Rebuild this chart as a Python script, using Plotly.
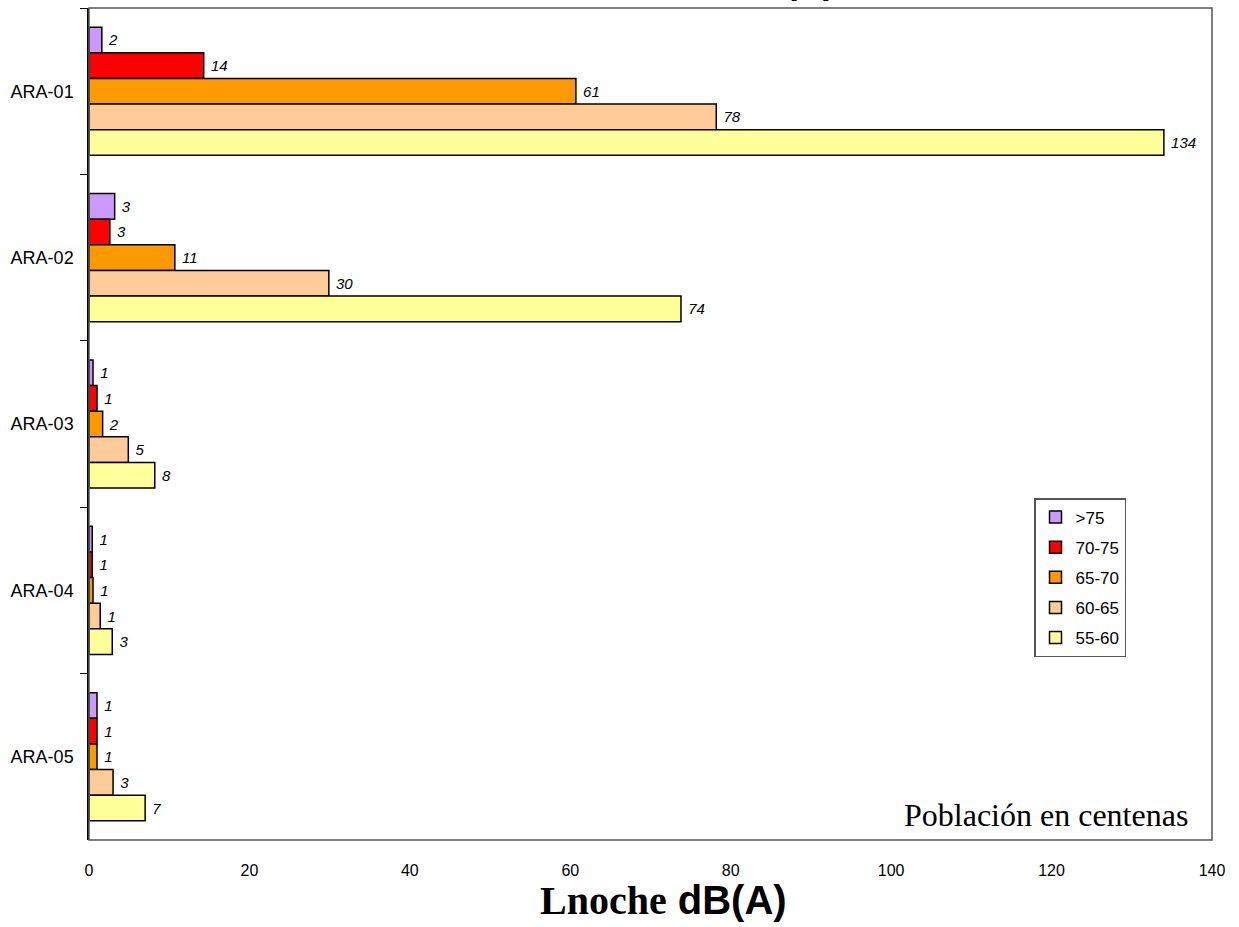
import plotly.graph_objects as go

categories = ["ARA-01", "ARA-02", "ARA-03", "ARA-04", "ARA-05"]
series_names = [">75", "70-75", "65-70", "60-65", "55-60"]

v_gt75 = [1.6, 3.2, 0.5, 0.4, 1.0]
v_70_75 = [14.3, 2.6, 1.0, 0.4, 1.0]
v_65_70 = [60.7, 10.7, 1.7, 0.5, 1.0]
v_60_65 = [78.2, 29.9, 4.9, 1.4, 3.0]
v_55_60 = [134.0, 73.8, 8.2, 2.9, 7.0]

l_gt75 = ["2", "3", "1", "1", "1"]
l_70_75 = ["14", "3", "1", "1", "1"]
l_65_70 = ["61", "11", "2", "1", "1"]
l_60_65 = ["78", "30", "5", "1", "3"]
l_55_60 = ["134", "74", "8", "3", "7"]

x_ticks = [0, 20, 40, 60, 80, 100, 120, 140]

colors = ["#CC99FF", "#FF0000", "#FF9900", "#FFCC99", "#FFFF99"]
values = [v_gt75, v_70_75, v_65_70, v_60_65, v_55_60]
labels = [l_gt75, l_70_75, l_65_70, l_60_65, l_55_60]

SANS = "Liberation Sans, Arial"
SERIF = "Liberation Serif, Times New Roman"

fig = go.Figure()
for name, vals, labs, col in zip(series_names, values, labels, colors):
    fig.add_trace(go.Bar(
        y=categories, x=vals, name=name, orientation="h", legendgroup=name,
        marker=dict(color=col, line=dict(color="black", width=1.5)),
        text=labs, texttemplate="\u00a0%{text}", textposition="outside", cliponaxis=False,
        textfont=dict(family=SANS, size=15, color="black", style="italic"),
    ))

fig.update_layout(
    width=1239, height=927,
    barmode="group", bargap=0.23, bargroupgap=0,
    plot_bgcolor="white", paper_bgcolor="white",
    margin=dict(l=89, r=27, t=8, b=87),
    font=dict(family=SANS, color="black"),
    legend=dict(
        x=0.8415, y=0.411, xanchor="left", yanchor="top",
        bordercolor="#555555", borderwidth=1.5, bgcolor="white",
        font=dict(size=17, family=SANS, color="black"),
        tracegroupgap=5, itemwidth=30,
    ),
    showlegend=True,
)
fig.update_xaxes(
    range=[0, 140], tickvals=x_ticks, showgrid=False, zeroline=False,
    showline=False, ticks="", tickfont=dict(size=16, color="black"),
    ticklabelstandoff=19,
)
fig.update_yaxes(
    autorange="reversed", showgrid=False, zeroline=False,
    showline=True, linecolor="black", linewidth=1.5,
    ticks="outside", ticklen=7, tickson="boundaries", tickcolor="black",
    tickfont=dict(size=18, color="black"), ticklabelstandoff=10,
)
fig.add_shape(type="rect", xref="paper", yref="paper", x0=0, x1=1, y0=0, y1=1,
              line=dict(color="#555555", width=1.5), layer="above")
# x-axis title
fig.add_annotation(
    xref="paper", yref="paper", x=0.5116, y=-0.0725, xanchor="center", yanchor="middle",
    text="<span style='font-family:Liberation Serif'>Lnoche</span> dB(A)", showarrow=False,
    font=dict(family=SANS, size=40, color="black", weight="bold"),
)
# units note
fig.add_annotation(
    xref="paper", yref="paper", x=0.9804, y=0.030, xanchor="right", yanchor="middle",
    text="Población en centenas", showarrow=False,
    font=dict(family=SERIF, size=32, color="black"),
)
# chart title, cut off at the top edge in the reference
fig.add_annotation(
    xref="paper", yref="paper", x=0.6665, y=1.0065, xanchor="right", yanchor="bottom",
    text="<span style='font-family:Liberation Serif'>Lnoche</span> dB(A)", showarrow=False,
    font=dict(family=SANS, size=36, color="black", weight="bold"),
)
fig.write_html("out.html", config={"displayModeBar": False},
               post_script="document.body.style.margin='0px';")
